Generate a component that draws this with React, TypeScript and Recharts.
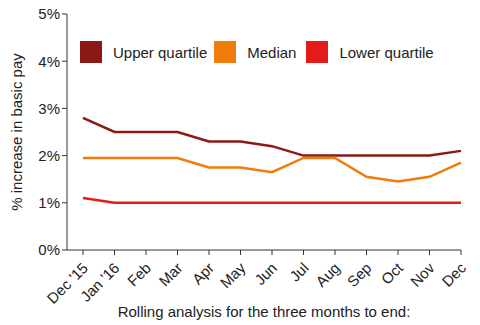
import { LineChart, Line, XAxis, YAxis } from 'recharts'

const months = ["Dec '15", "Jan '16", 'Feb', 'Mar', 'Apr', 'May', 'Jun', 'Jul', 'Aug', 'Sep', 'Oct', 'Nov', 'Dec']
const upperQuartile = [2.8, 2.5, 2.5, 2.5, 2.3, 2.3, 2.2, 2.0, 2.0, 2.0, 2.0, 2.0, 2.1]
const median = [1.95, 1.95, 1.95, 1.95, 1.75, 1.75, 1.65, 1.95, 1.95, 1.55, 1.45, 1.55, 1.85]
const lowerQuartile = [1.1, 1.0, 1.0, 1.0, 1.0, 1.0, 1.0, 1.0, 1.0, 1.0, 1.0, 1.0, 1.0]
const yTicks = [0, 1, 2, 3, 4, 5]

const series = [
  { key: 'upper', name: 'Upper quartile', color: '#8B1A14' },
  { key: 'median', name: 'Median', color: '#F07D0A' },
  { key: 'lower', name: 'Lower quartile', color: '#E41B1B' },
]

const data = months.map((m, i) => ({
  month: m,
  upper: upperQuartile[i],
  median: median[i],
  lower: lowerQuartile[i],
}))

const FONT = 'Arial, "Liberation Sans", sans-serif'

function MonthTick({ x, y, payload }: { x?: number; y?: number; payload?: { value: string } }) {
  const ax = (x ?? 0) + 6
  const ay = (y ?? 0) + 12
  return (
    <text
      x={ax} y={ay} transform={`rotate(-45, ${ax}, ${ay})`}
      textAnchor="end" fontSize={15} fill="#222" fontFamily={FONT}
    >
      {payload?.value}
    </text>
  )
}

// legend drawn outside the chart so it does not shrink the plot area
function ChartLegend() {
  return (
    <div style={{ position: 'absolute', left: 80, top: 41, display: 'flex', alignItems: 'center', fontFamily: FONT, fontSize: 15, color: '#222' }}>
      {series.map((s, i) => (
        <div key={s.key} style={{ display: 'flex', alignItems: 'center', marginRight: i === 0 ? 7 : 10 }}>
          <div style={{ width: 22, height: 22, background: s.color, marginRight: 11 }} />
          <span>{s.name}</span>
        </div>
      ))}
    </div>
  )
}

export default function App() {
  return (
    <div style={{ position: 'absolute', left: 0, top: 0, width: 480, height: 325, background: '#fff' }}>
      <LineChart width={480} height={325} data={data} margin={{ top: 14, right: 19, bottom: 0, left: 0 }}>
        <XAxis
          dataKey="month" interval={0} height={75} padding={{ left: 16, right: 0 }}
          tick={<MonthTick />} tickSize={5} stroke="#333"
          label={{ value: 'Rolling analysis for the three months to end:', position: 'insideBottom', offset: 8, fontSize: 15, fill: '#222', fontFamily: FONT }}
        />
        <YAxis
          domain={[0, 5]} ticks={yTicks} width={67} tickSize={5} stroke="#333"
          tickFormatter={(v: number) => `${v}%`}
          tick={{ fontSize: 15, fill: '#222', fontFamily: FONT }}
          label={{
            content: () => (
              <text x={18} y={132} transform="rotate(-90, 18, 132)" textAnchor="middle" dominantBaseline="middle" fontSize={15} fill="#222" fontFamily={FONT}>
                % increase in basic pay
              </text>
            ),
          }}
        />
        {series.map(s => (
          <Line key={s.key} dataKey={s.key} name={s.name} stroke={s.color} strokeWidth={2.5} dot={false} isAnimationActive={false} type="linear" />
        ))}
      </LineChart>
      <ChartLegend />
    </div>
  )
}
